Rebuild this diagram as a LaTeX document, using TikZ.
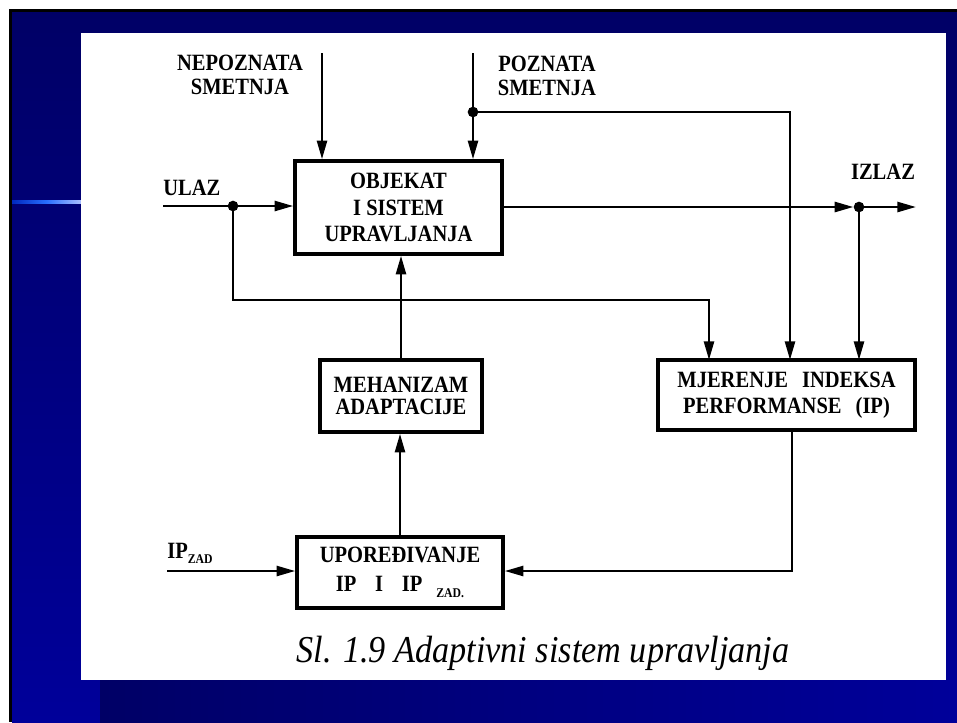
\documentclass[tikz,border=0pt]{standalone}
\usepackage{fontspec}
\setmainfont{Liberation Serif}
\newfontfamily\dfont[FakeStretch=0.88]{Liberation Serif}
\newfontfamily\cfont[FakeStretch=0.9]{Liberation Serif}
\usetikzlibrary{arrows.meta,calc}
\definecolor{navytop}{RGB}{0,0,102}
\definecolor{navybot}{RGB}{0,0,154}
\begin{document}
\begin{tikzpicture}[x=0.75pt,y=-0.75pt,
  box/.style={draw,line width=2.6pt,fill=white,inner sep=0pt,align=center,
     font=\dfont\bfseries\fontsize{17.5}{20}\selectfont},
  lbl/.style={inner sep=0pt,align=center,font=\dfont\bfseries\fontsize{17.5}{18}\selectfont},
  conn/.style={line width=1.9pt},
  arr/.style={conn,-{Triangle[length=14pt,width=7.5pt]}},
  dot/.style={circle,fill=black,inner sep=0pt,minimum size=8pt}]
% background / slide frame
\useasboundingbox (0,0) rectangle (957,722);
\fill[white] (0,0) rectangle (957,722);
\fill[black] (9,9) rectangle (957,722);
\shade[top color=navytop,bottom color=navybot] (12,12) rectangle (957,722);
\shade[left color=navytop,right color=navybot] (100,680) rectangle (957,722);
\shade[left color={rgb,255:red,0;green,40;blue,190},right color={rgb,255:red,170;green,190;blue,255},
  middle color={rgb,255:red,40;green,110;blue,255}] (12,200.5) rectangle (81,203.5);
\fill[white] (81,33) rectangle (946,680);

% blocks
\node[box,minimum width=155.25pt,minimum height=69.75pt] (obj) at (398.5,207.5)
  {OBJEKAT\\I SISTEM\\UPRAVLJANJA};
\node[box,minimum width=121.5pt,minimum height=54pt,font=\dfont\bfseries\fontsize{17.5}{16.5}\selectfont] (meh) at (401,396)
  {MEHANIZAM\\ADAPTACIJE};
\node[box,minimum width=154.5pt,minimum height=53.25pt,font=\dfont\bfseries\fontsize{17.5}{22}\selectfont] (upo) at (400,572.5)
  {UPOREĐIVANJE\\IP\hspace{0.8em}I\hspace{0.8em}IP\hspace{0.6em}\raisebox{-0.55ex}{\fontsize{10}{10}\selectfont ZAD.}};
\node[box,minimum width=192.75pt,minimum height=52.5pt,font=\dfont\bfseries\fontsize{17.5}{19.5}\selectfont] (mje) at (786.5,395)
  {MJERENJE\hspace{0.6em}INDEKSA\\PERFORMANSE\hspace{0.6em}(IP)};

% labels
\node[lbl] (nep) at (240,75) {NEPOZNATA\\SMETNJA};
\node[lbl] (poz) at (547,76) {POZNATA\\SMETNJA};
\node[lbl,anchor=base west] (ulaz) at (163,195.5) {ULAZ};
\node[lbl,anchor=base] (izlaz) at (883,179) {IZLAZ};
\node[lbl,anchor=base west] (ipzad) at (167,558)
  {IP\raisebox{-0.5ex}{\fontsize{10}{10}\selectfont ZAD}};
\node[inner sep=0pt,anchor=base,font=\cfont\itshape\fontsize{28.5}{30}\selectfont] (cap) at (543,662)
  {Sl. 1.9 Adaptivni sistem upravljanja};

% coordinates
\coordinate (nepTop) at (322,53);
\coordinate (pozTop) at (473,53);
\node[dot] (pozDot) at (473,112) {};
\coordinate (ulazStart) at (163,206);
\node[dot] (ulazDot) at (233,206) {};
\node[dot] (izDot) at (859,207) {};
\coordinate (izEnd) at (916,207);
\coordinate (bus) at (500,300);
\coordinate (m1) at (709,360);
\coordinate (m2) at (790,360);
\coordinate (m3) at (859,360);
\coordinate (mOut) at (792,430);
\coordinate (ipStart) at (167,571);

% connectors
\draw[arr] (nepTop) -- (nepTop |- obj.north);
\draw[conn] (pozTop) -- (pozDot.center);
\draw[arr] (pozDot.center) -- (pozDot.center |- obj.north);
\draw[arr] (pozDot.center) -| (m2);
\draw[conn] (ulazStart) -- (ulazDot.center);
\draw[arr] (ulazDot.center) -- (ulazDot.center -| obj.west);
\draw[arr] (ulazDot.center) |- (bus) -| (m1);
\draw[arr] (obj.east |- izDot) -- (izDot.west);
\draw[arr] (izDot.center) -- (izEnd);
\draw[arr] (izDot.center) -- (m3);
\draw[arr] (meh.north) -- (meh.north |- obj.south);
\draw[arr] (upo.north) -- (upo.north |- meh.south);
\draw[arr] (mOut) |- (upo.east |- ipStart);
\draw[arr] (ipStart) -- (ipStart -| upo.west);
\end{tikzpicture}
\end{document}
